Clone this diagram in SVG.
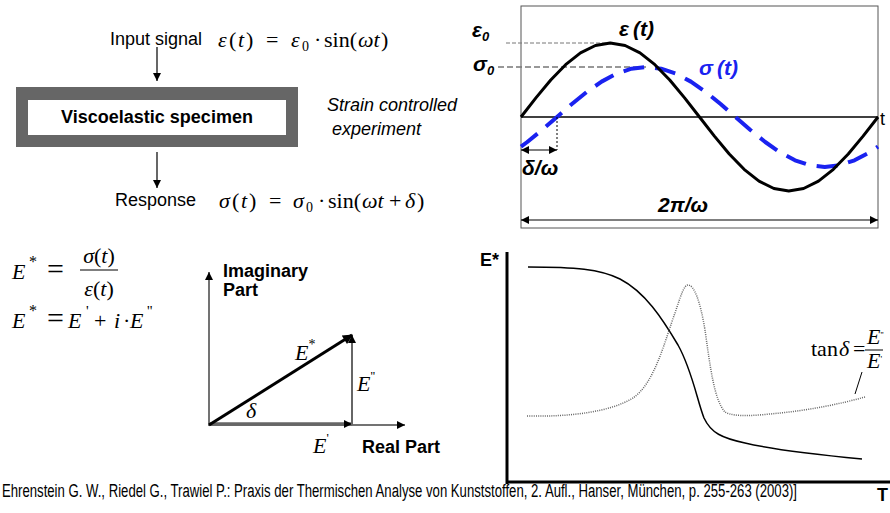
<svg xmlns="http://www.w3.org/2000/svg" width="890" height="513" viewBox="0 0 890 513">
<defs>
<marker id="ah" viewBox="0 0 10 10" refX="10" refY="5" markerWidth="9" markerHeight="8" markerUnits="userSpaceOnUse" orient="auto-start-reverse"><path d="M0,0 L10,5 L0,10 z" fill="#000"/></marker>
<marker id="ahb" viewBox="0 0 10 10" refX="9" refY="5" markerWidth="12" markerHeight="10" markerUnits="userSpaceOnUse" orient="auto"><path d="M0,0 L10,5 L0,10 z" fill="#000"/></marker>
</defs>
<style>
.lbl{font-family:"Liberation Sans",Arial,sans-serif;font-size:18px;fill:#000}
.b{font-weight:bold}
.i{font-style:italic}
.m{font-family:"Liberation Serif","Times New Roman",serif;font-size:22px;font-style:italic;fill:#000}
.n{font-style:normal}
.gl{font-family:"Liberation Sans",Arial,sans-serif;font-size:21px;font-weight:bold;font-style:italic}
.ln{fill:none;stroke:#000}
</style>

<g id="input-signal">
<text class="lbl" x="110" y="45">Input signal</text>
<text class="m" y="47" font-size="23"><tspan x="218">ε</tspan><tspan class="n" x="229">(</tspan><tspan x="238">t</tspan><tspan class="n" x="246">)</tspan><tspan class="n" x="266">=</tspan><tspan x="291">ε</tspan><tspan class="n" x="302" font-size="14" dy="4">0</tspan><tspan class="n" x="314" dy="-4">·</tspan><tspan class="n" x="324">sin(</tspan><tspan x="358">ωt</tspan><tspan class="n" x="381">)</tspan></text>
</g>

<g id="specimen">
<rect x="16" y="87" width="282" height="60" fill="#666"/>
<rect x="28" y="100" width="258" height="35" fill="#fff"/>
<text class="lbl b" x="157" y="123" text-anchor="middle">Viscoelastic specimen</text>
</g>

<g id="note">
<text class="lbl i" x="327" y="111">Strain controlled</text>
<text class="lbl i" x="332" y="135">experiment</text>
</g>

<g id="response">
<text class="lbl" x="115" y="206">Response</text>
<text class="m" y="208" font-size="23"><tspan x="219">σ</tspan><tspan class="n" x="232">(</tspan><tspan x="241">t</tspan><tspan class="n" x="249">)</tspan><tspan class="n" x="269">=</tspan><tspan x="293">σ</tspan><tspan class="n" x="306" font-size="14" dy="4">0</tspan><tspan class="n" x="318" dy="-4">·</tspan><tspan class="n" x="328">sin(</tspan><tspan x="362">ωt</tspan><tspan class="n" x="389">+</tspan><tspan x="405">δ</tspan><tspan class="n" x="417">)</tspan></text>
</g>

<g id="connectors">
<line class="ln" x1="157" y1="47" x2="157" y2="81" stroke-width="1.2" marker-end="url(#ah)"/>
<line class="ln" x1="157" y1="152" x2="157" y2="188" stroke-width="1.2" marker-end="url(#ah)"/>
</g>

<g id="modulus-equations">
<text class="m" y="279" font-size="28"><tspan x="12">E</tspan><tspan class="n" x="29" font-size="16" dy="-12">*</tspan><tspan class="n" x="47" dy="12" font-size="30">=</tspan></text>
<text class="m" x="99" y="263" font-size="26" text-anchor="middle">σ<tspan class="n">(</tspan>t<tspan class="n">)</tspan></text>
<line x1="80" y1="270" x2="118" y2="270" stroke="#000" stroke-width="1.2"/>
<text class="m" x="99" y="296" font-size="26" text-anchor="middle">ε<tspan class="n">(</tspan>t<tspan class="n">)</tspan></text>
<text class="m" y="328" font-size="28"><tspan x="12">E</tspan><tspan class="n" x="29" font-size="16" dy="-12">*</tspan><tspan class="n" x="47" dy="12" font-size="30">=</tspan><tspan x="68">E</tspan><tspan class="n" x="86" font-size="15" dy="-12">'</tspan><tspan class="n" x="94" dy="12">+</tspan><tspan x="114">i</tspan><tspan class="n" x="123">·</tspan><tspan x="130">E</tspan><tspan class="n" x="147" font-size="15" dy="-12">''</tspan></text>
</g>

<g id="phasor">
<line x1="209" y1="426" x2="209" y2="272" stroke="#444" stroke-width="1.5" marker-end="url(#ah)"/>
<line x1="209" y1="425" x2="405" y2="425" stroke="#444" stroke-width="1.5" marker-end="url(#ah)"/>
<line x1="209" y1="424" x2="352" y2="424" stroke="#666" stroke-width="3.5" marker-end="url(#ah)"/>
<line x1="352" y1="425" x2="352" y2="335" stroke="#666" stroke-width="2" marker-end="url(#ah)"/>
<line x1="209" y1="425" x2="352" y2="335" stroke="#000" stroke-width="3" marker-end="url(#ahb)"/>
<text class="lbl b" x="223" y="277" font-size="14.5">Imaginary</text>
<text class="lbl b" x="223" y="296" font-size="14.5">Part</text>
<text class="lbl b" x="362" y="453" font-size="14.5">Real Part</text>
<text class="m" x="246" y="418" font-size="23">δ</text>
<text class="m" x="295" y="360" font-size="24">E<tspan class="n" font-size="14" dy="-11">*</tspan></text>
<text class="m" x="357" y="391" font-size="24">E<tspan class="n" font-size="13" dy="-11">''</tspan></text>
<text class="m" x="313" y="453" font-size="24">E<tspan class="n" font-size="13" dy="-11">'</tspan></text>
</g>

<g id="strain-plot">
<rect x="521" y="6" width="357" height="222" fill="none" stroke="#555" stroke-width="1"/>
<line x1="521" y1="117" x2="878" y2="117" stroke="#000" stroke-width="1.3"/>
<line x1="506" y1="43" x2="611" y2="43" stroke="#777" stroke-width="1" stroke-dasharray="4,2"/>
<line x1="498" y1="67" x2="646" y2="67" stroke="#777" stroke-width="1.5" stroke-dasharray="6,3"/>
<polyline fill="none" stroke="#1a22f0" stroke-width="4" stroke-dasharray="21,11" stroke-linejoin="round" points="521,146.6 527.25,142 542.1,129.9 557,117 571.9,104.06 586.75,92 601.6,81.64 616.5,73.7 631.4,68.7 646.25,67 661.1,68.7 676,73.7 690.9,81.64 705.75,92 720.6,104.06 735.5,117 750.4,129.94 765.25,142 780.1,152.36 795,160.3 809.9,165.3 824.75,167 839.6,165.3 854.5,160.3 869.4,152.36 878,146.6"/>
<polyline fill="none" stroke="#000" stroke-width="3" stroke-linejoin="round" points="521,117 535.9,97.85 550.75,80 565.6,64.67 580.5,52.91 595.4,45.52 610.25,43 625.1,45.52 640,52.91 654.9,64.67 669.75,80 684.6,97.85 699.5,117 714.4,136.15 729.25,154 744.1,169.33 759,181.09 773.9,188.48 788.75,191 803.6,188.48 818.5,181.09 833.4,169.33 848.25,154 863.1,136.15 878,117"/>
<line x1="557" y1="117" x2="557" y2="150" stroke="#000" stroke-width="1" stroke-dasharray="2,2"/>
<line x1="521" y1="150" x2="557" y2="150" stroke="#000" stroke-width="1.2" marker-start="url(#ah)" marker-end="url(#ah)"/>
<line x1="521" y1="220" x2="878" y2="220" stroke="#000" stroke-width="1.2" marker-start="url(#ah)" marker-end="url(#ah)"/>
<text class="gl" x="472" y="37">ε<tspan font-size="13" dy="4">0</tspan></text>
<text class="gl" x="473" y="71">σ<tspan font-size="13" dy="4">0</tspan></text>
<text class="gl" x="619" y="36">ε<tspan dx="4">(t)</tspan></text>
<text class="gl" x="699" y="75" fill="#1a22f0">σ<tspan dx="4">(t)</tspan></text>
<text class="lbl" x="880" y="125" font-size="17">t</text>
<text class="gl" x="522" y="175">δ/ω</text>
<text class="gl" x="658" y="212">2π/ω</text>
</g>

<g id="modulus-plot">
<line x1="507" y1="252" x2="507" y2="484" stroke="#000" stroke-width="3"/>
<line x1="506" y1="482" x2="890" y2="482" stroke="#000" stroke-width="3"/>
<text class="lbl b" x="480" y="266" font-size="16">E*</text>
<path class="ln" stroke-width="1.5" d="M528,267 C575,267 600,269 620,279 C645,292 662,318 678,345 C692,370 697,400 704,418 C711,433 722,438 745,443 C770,449 820,455 862,459"/>
<path fill="none" stroke="#666" stroke-width="1.5" stroke-dasharray="1,1.2" d="M527,416 C570,417 610,412 633,398 C655,383 665,340 675,313 C681,295 684,285 688,285 C694,285 700,300 705,330 C710,365 714,400 725,412 C735,418 760,415 780,413 C810,410 840,404 865,397"/>
<line x1="862" y1="372" x2="855" y2="394" stroke="#000" stroke-width="1"/>
<text class="m" y="356" font-size="16"><tspan class="n" x="811">tan</tspan><tspan x="839">δ</tspan><tspan class="n" x="853">=</tspan></text>
<text class="m" x="867" y="344" font-size="13.5">E<tspan class="n" font-size="9" dy="-6">''</tspan></text>
<line x1="865" y1="350" x2="883" y2="350" stroke="#000" stroke-width="1"/>
<text class="m" x="867" y="368" font-size="13.5">E<tspan class="n" font-size="9" dy="-6">'</tspan></text>
</g>

<g id="citation">
<text class="lbl" x="2" y="497" font-size="12" textLength="795" lengthAdjust="spacingAndGlyphs">Ehrenstein G. W., Riedel G., Trawiel P.: Praxis der Thermischen Analyse von Kunststoffen, 2. Aufl., Hanser, München, p. 255-263 (2003)]</text>
<text class="lbl b" x="877" y="501" font-size="17">T</text>
</g>
</svg>
